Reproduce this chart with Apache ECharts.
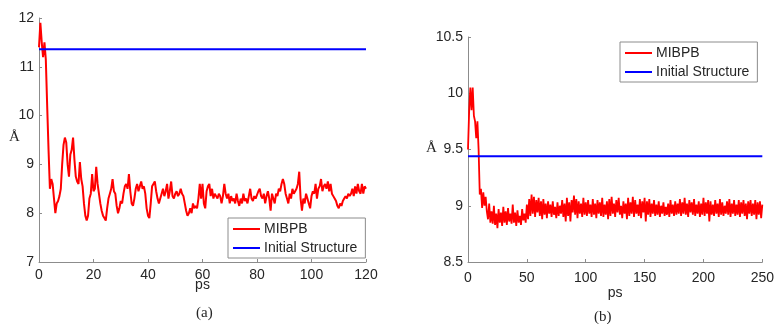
<!DOCTYPE html>
<html>
<head>
<meta charset="utf-8">
<script src="https://cdn.jsdelivr.net/npm/echarts@6/dist/echarts.min.js"></script>
<style>html,body{margin:0;padding:0;background:#fff}#c{width:777px;height:324px}</style>
</head>
<body>
<div id="c"></div>
<script>
// Panel (a): time step 0.5 ps, 0..120 ps
const stepA = 0.5;
const rmsdA = [
 11.40, 11.90, 11.50, 11.20, 11.50, 11.15, 10.20, 9.30, 8.50, 8.70,
 8.60, 8.30, 8.00, 8.20, 8.25, 8.35, 8.50, 9.00, 9.40, 9.55,
 9.45, 9.00, 8.75, 9.20, 9.30, 9.55, 9.10, 8.75, 8.65, 8.60,
 9.05, 8.70, 8.55, 8.20, 7.95, 7.85, 7.95, 8.30, 8.40, 8.80,
 8.45, 8.50, 8.95, 8.60, 8.40, 8.20, 8.05, 7.95, 7.90, 7.85,
 8.10, 8.30, 8.40, 8.50, 8.70, 8.45, 8.40, 8.15, 8.00, 8.10,
 8.25, 8.20, 8.40, 8.55, 8.60, 8.50, 8.80, 8.45, 8.20, 8.15,
 8.30, 8.50, 8.60, 8.45, 8.55, 8.65, 8.50, 8.55, 8.40, 8.10,
 7.95, 7.90, 8.20, 8.55, 8.60, 8.65, 8.45, 8.30, 8.20, 8.30,
 8.40, 8.50, 8.35, 8.45, 8.60, 8.30, 8.45, 8.65, 8.35, 8.30,
 8.40, 8.45, 8.35, 8.40, 8.50, 8.40, 8.35, 8.20, 8.05, 7.95,
 8.00, 8.10, 8.00, 8.20, 8.10, 8.15, 8.10, 8.30, 8.60, 8.30,
 8.60, 8.20, 8.10, 8.45, 8.55, 8.60, 8.35, 8.50, 8.30, 8.40,
 8.35, 8.30, 8.40, 8.35, 8.20, 8.35, 8.60, 8.40, 8.30, 8.40,
 8.20, 8.35, 8.25, 8.30, 8.20, 8.40, 8.25, 8.15, 8.30, 8.20,
 8.40, 8.25, 8.30, 8.20, 8.35, 8.50, 8.30, 8.25, 8.35, 8.30,
 8.30, 8.45, 8.50, 8.35, 8.30, 8.40, 8.20, 8.35, 8.45, 8.30,
 8.05, 8.40, 8.30, 8.20, 8.40, 8.35, 8.50, 8.45, 8.60, 8.70,
 8.60, 8.40, 8.30, 8.20, 8.40, 8.30, 8.50, 8.40, 8.45, 8.50,
 8.60, 8.85, 8.30, 8.05, 8.30, 8.20, 8.40, 8.30, 8.20, 8.10,
 8.35, 8.45, 8.40, 8.60, 8.30, 8.50, 8.55, 8.70, 8.45, 8.55,
 8.60, 8.50, 8.65, 8.45, 8.60, 8.40, 8.35, 8.30, 8.25, 8.15,
 8.10, 8.20, 8.15, 8.25, 8.30, 8.35, 8.30, 8.40, 8.35, 8.40,
 8.50, 8.35, 8.55, 8.40, 8.60, 8.45, 8.40, 8.60, 8.40, 8.55,
 8.50
];
const initialA = 11.36;

// Panel (b): time step 1 ps, 0..250 ps
const stepB = 1;
const rmsdB = [
 9.50, 9.85, 10.05, 9.85, 10.05, 9.80, 9.75, 9.60, 9.75, 9.50,
 9.10, 9.15, 8.98, 9.12, 9.00, 9.08, 8.95, 8.88, 9.02, 8.85,
 8.95, 8.84, 9.00, 8.83, 8.93, 8.80, 8.97, 8.85, 8.94, 8.82,
 8.99, 8.85, 8.95, 8.83, 8.98, 8.86, 8.93, 8.84, 9.01, 8.85,
 8.94, 8.82, 8.96, 8.85, 8.91, 8.83, 8.97, 8.87, 8.93, 8.85,
 9.01, 8.88, 9.06, 8.91, 9.10, 8.93, 9.08, 8.90, 9.05, 8.94,
 9.07, 8.91, 9.04, 8.88, 9.06, 8.92, 9.02, 8.89, 9.04, 8.93,
 9.01, 8.90, 9.04, 8.92, 8.99, 8.89, 9.03, 8.91, 9.00, 8.93,
 9.05, 8.90, 9.02, 8.86, 9.07, 8.91, 9.03, 8.86, 9.05, 8.94,
 9.09, 8.92, 9.06, 8.89, 9.04, 8.93, 9.02, 8.90, 9.07, 8.92,
 9.03, 8.91, 9.05, 8.93, 9.01, 8.90, 9.06, 8.92, 9.02, 8.89,
 9.05, 8.93, 9.03, 8.91, 9.07, 8.90, 9.01, 8.92, 9.04, 8.88,
 9.06, 8.91, 9.08, 8.93, 9.02, 8.90, 9.05, 8.94, 9.07, 8.92,
 9.00, 8.89, 9.04, 8.93, 9.02, 8.88, 9.07, 8.91, 9.03, 8.93,
 9.08, 8.90, 9.05, 8.93, 9.01, 8.91, 9.06, 8.89, 9.04, 8.94,
 9.07, 8.86, 9.04, 8.92, 9.06, 8.90, 9.02, 8.93, 9.05, 8.91,
 9.01, 8.92, 9.04, 8.90, 9.00, 8.93, 9.03, 8.91, 8.99, 8.92,
 9.02, 8.90, 9.05, 8.93, 9.01, 8.91, 9.04, 8.92, 9.02, 8.93,
 9.06, 8.91, 9.03, 8.93, 9.07, 8.92, 9.02, 8.90, 9.05, 8.94,
 9.03, 8.92, 9.06, 8.91, 9.01, 8.93, 9.04, 8.90, 9.02, 8.92,
 9.07, 8.91, 9.03, 8.93, 9.05, 8.86, 9.04, 8.92, 9.01, 8.91,
 9.05, 8.93, 9.02, 8.90, 9.06, 8.92, 9.03, 8.91, 9.00, 8.93,
 9.04, 8.92, 9.06, 8.90, 9.02, 8.93, 9.05, 8.91, 9.01, 8.92,
 9.05, 8.90, 9.03, 8.93, 9.05, 8.91, 9.02, 8.88, 9.04, 8.93,
 9.05, 8.91, 9.02, 8.92, 9.05, 8.88, 9.03, 8.92, 9.04, 8.89,
 9.01
];
const initialB = 9.44;

const xTicksA = [0, 120, 20];
const yTicksA = [7, 12, 1];
const xTicksB = [0, 250, 50];
const yTicksB = [8.5, 10.5, 0.5];
const seriesNames = ['MIBPB', 'Initial Structure'];
const panelLabels = ['(a)', '(b)'];

const pairsA = rmsdA.map((v, i) => [i * stepA, v]);
const pairsB = rmsdB.map((v, i) => [i * stepB, v]);

const FONT = 'Liberation Sans, Arial, sans-serif';
const SERIF = 'Liberation Serif, DejaVu Serif, serif';
const axisColor = '#8c8c8c';
const labelColor = '#262626';

function xAxis(grid, t, margin, gap) {
  return {
    type: 'value', gridIndex: grid, min: t[0], max: t[1], interval: t[2],
    name: 'ps', nameLocation: 'middle', nameGap: gap, nameMoveOverlap: false,
    nameTextStyle: {fontFamily: FONT, fontSize: 14, color: labelColor},
    axisLine: {show: true, onZero: false, lineStyle: {color: axisColor, width: 1}},
    axisTick: {show: true, inside: true, length: 3, lineStyle: {color: axisColor}},
    axisLabel: {fontFamily: FONT, fontSize: 14, color: labelColor, margin: margin},
    splitLine: {show: false}
  };
}
function yAxis(grid, t) {
  return {
    type: 'value', gridIndex: grid, min: t[0], max: t[1], interval: t[2],
    axisLine: {show: true, onZero: false, lineStyle: {color: axisColor, width: 1}},
    axisTick: {show: true, inside: true, length: 3, lineStyle: {color: axisColor}},
    axisLabel: {fontFamily: FONT, fontSize: 14, color: labelColor, margin: 5},
    splitLine: {show: false}
  };
}
function legend(left, top) {
  return {
    data: seriesNames, orient: 'vertical', left: left, top: top,
    width: 120,
    backgroundColor: '#fff', borderColor: '#8c8c8c', borderWidth: 1,
    padding: [4, 8, 3, 5], itemGap: 5,
    icon: 'rect', itemWidth: 27, itemHeight: 2,
    textStyle: {fontFamily: FONT, fontSize: 14, color: labelColor, padding: [0, 0, 0, -1]},
    selectedMode: false
  };
}

const chart = echarts.init(document.getElementById('c'), null, {renderer: 'canvas'});
chart.setOption({
  animation: false,
  backgroundColor: '#fff',
  grid: [
    {left: 39, top: 18, width: 327, height: 244},
    {left: 468, top: 37, width: 296, height: 225}
  ],
  xAxis: [xAxis(0, xTicksA, 6, 16), xAxis(1, xTicksB, 9, 24)],
  yAxis: [yAxis(0, yTicksA), yAxis(1, yTicksB)],
  legend: [legend(228, 218), legend(620, 42)],
  series: [
    {name: seriesNames[0], type: 'line', xAxisIndex: 0, yAxisIndex: 0, data: pairsA,
     showSymbol: false, lineStyle: {color: '#ff0000', width: 2}, itemStyle: {color: '#ff0000'}, z: 3},
    {name: seriesNames[1], type: 'line', xAxisIndex: 0, yAxisIndex: 0,
     data: [[xTicksA[0], initialA], [xTicksA[1], initialA]],
     showSymbol: false, lineStyle: {color: '#0000ff', width: 2}, itemStyle: {color: '#0000ff'}, z: 4},
    {name: seriesNames[0], type: 'line', xAxisIndex: 1, yAxisIndex: 1, data: pairsB,
     showSymbol: false, lineStyle: {color: '#ff0000', width: 1.8}, itemStyle: {color: '#ff0000'}, z: 3},
    {name: seriesNames[1], type: 'line', xAxisIndex: 1, yAxisIndex: 1,
     data: [[xTicksB[0], initialB], [xTicksB[1], initialB]],
     showSymbol: false, lineStyle: {color: '#0000ff', width: 2}, itemStyle: {color: '#0000ff'}, z: 4}
  ],
  graphic: [
    {type: 'text', left: 9, top: 130, style: {text: 'Å', font: '15px ' + SERIF, fill: labelColor}},
    {type: 'text', left: 426, top: 141, style: {text: 'Å', font: '15px ' + SERIF, fill: labelColor}},
    {type: 'text', left: 196, top: 306, style: {text: panelLabels[0], font: '15px ' + SERIF, fill: labelColor}},
    {type: 'text', left: 594, top: 310, style: {text: panelLabels[1], font: '15px ' + SERIF, fill: labelColor}}
  ]
});
</script>
</body>
</html>
